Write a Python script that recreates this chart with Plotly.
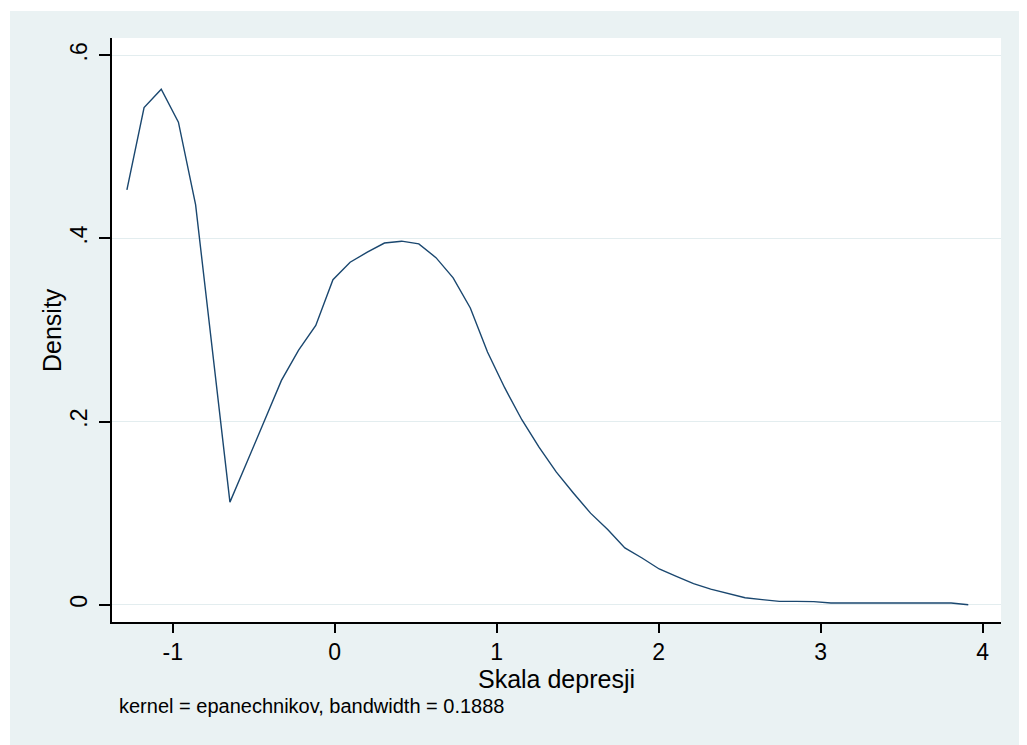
import plotly.graph_objects as go

# Evaluation points (Skala depresji) and kernel density estimates
x_points = [-1.283, -1.177, -1.071, -0.965, -0.859, -0.753, -0.647, -0.541, -0.435, -0.329,
            -0.223, -0.117, -0.011, 0.095, 0.201, 0.307, 0.413, 0.519, 0.625, 0.731,
            0.837, 0.943, 1.049, 1.155, 1.261, 1.367, 1.473, 1.579, 1.685, 1.791,
            1.897, 2.003, 2.109, 2.215, 2.321, 2.427, 2.533, 2.639, 2.745, 2.851,
            2.957, 3.063, 3.169, 3.275, 3.381, 3.487, 3.593, 3.699, 3.805, 3.911]
density = [0.453, 0.543, 0.563, 0.527, 0.437, 0.272, 0.112, 0.156, 0.200, 0.245,
           0.278, 0.305, 0.355, 0.374, 0.385, 0.395, 0.397, 0.394, 0.379, 0.357,
           0.324, 0.276, 0.237, 0.202, 0.172, 0.145, 0.122, 0.100, 0.082, 0.062,
           0.051, 0.039, 0.031, 0.023, 0.017, 0.012, 0.0076, 0.0055, 0.0036, 0.0036,
           0.0033, 0.0019, 0.0019, 0.0019, 0.0019, 0.0019, 0.0019, 0.0019, 0.0018, 0.0]

x_tickvals = [-1, 0, 1, 2, 3, 4]
x_ticktext = ["-1", "0", "1", "2", "3", "4"]
y_tickvals = [0, 0.2, 0.4, 0.6]
y_ticktext = ["0", ".2", ".4", ".6"]

x_title = "Skala depresji"
y_title = "Density"
note_text = "kernel = epanechnikov, bandwidth = 0.1888"

FONT = "Liberation Sans, Arial, sans-serif"
BG = "#eaf2f3"

fig = go.Figure()
fig.add_trace(go.Scatter(x=x_points, y=density, mode="lines",
                         line=dict(color="#1a476f", width=1.4),
                         showlegend=False, hoverinfo="x+y"))

# page body has an 8px margin, so the figure is sized to fill the rest of the window
W, H = 1019, 737
L, R, T, B = 104, 26, 30, 123
pw, ph = W - L - R, H - T - B


def px_x(p):
    return (p - L) / pw


def px_y(p):
    return (H - B - p) / ph


fig.update_layout(
    width=W, height=H,
    margin=dict(l=L, r=R, t=T, b=B, pad=0),
    paper_bgcolor=BG,
    plot_bgcolor="white",
    font=dict(family=FONT, color="black"),
    xaxis=dict(
        range=[-1.375, 4.113],
        tickvals=x_tickvals, ticktext=x_ticktext,
        tickfont=dict(size=23, family=FONT, color="black"),
        ticks="outside", ticklen=9, tickwidth=1.5, tickcolor="black",
        showline=True, linecolor="black", linewidth=1.5,
        showgrid=False, zeroline=False,
        title=dict(text=x_title, font=dict(size=25, family=FONT, color="black"), standoff=4),
        automargin=False,
    ),
    yaxis=dict(
        range=[-0.0189, 0.6189],
        tickvals=y_tickvals, ticktext=y_ticktext,
        tickangle=-90,
        tickfont=dict(size=23, family=FONT, color="black"),
        ticks="outside", ticklen=11, tickwidth=1.5, tickcolor="black",
        ticklabelstandoff=3,
        showline=True, linecolor="black", linewidth=1.5,
        showgrid=True, gridcolor="#e3edef", gridwidth=1,
        zeroline=False,
        automargin=False,
    ),
    shapes=[
        dict(type="rect", xref="paper", yref="paper",
             x0=px_x(0), x1=px_x(2), y0=px_y(H), y1=px_y(0),
             fillcolor="white", line=dict(width=0), layer="below"),
        dict(type="rect", xref="paper", yref="paper",
             x0=px_x(0), x1=px_x(W), y0=px_y(3), y1=px_y(0),
             fillcolor="white", line=dict(width=0), layer="below"),
    ],
    annotations=[
        dict(text=y_title, xref="paper", yref="paper",
             x=px_x(44), y=0.5, xanchor="center", yanchor="middle", textangle=-90,
             showarrow=False, font=dict(size=25, family=FONT, color="black")),
        dict(text=note_text, xref="paper", yref="paper",
             x=px_x(109), y=px_y(698), xanchor="left", yanchor="middle",
             showarrow=False, font=dict(size=20, family=FONT, color="black")),
    ],
)

fig.write_html("out.html")
